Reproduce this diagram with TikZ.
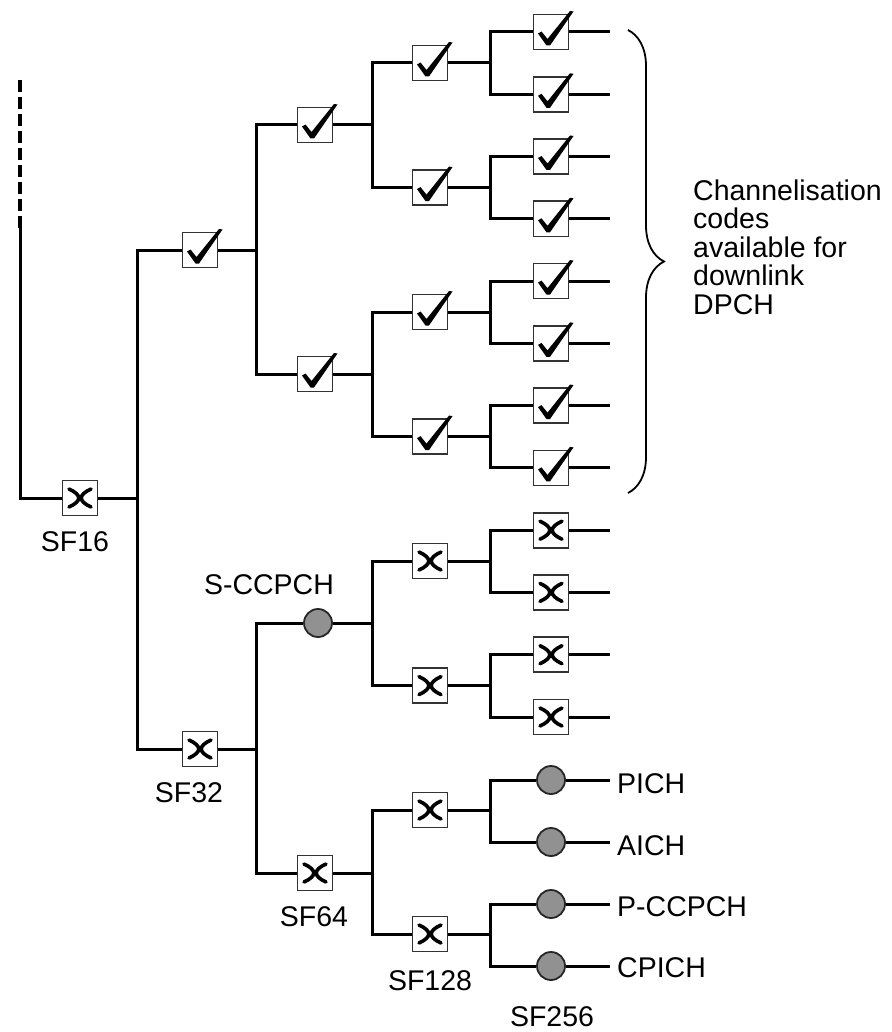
\documentclass[tikz,border=0pt]{standalone}
\usepackage{fontspec}
\setmainfont{Liberation Sans}
\usetikzlibrary{decorations.pathreplacing,calc}
\begin{document}
\begin{tikzpicture}[x=1pt,y=-1pt,
  lnk/.style={line width=3pt},
  boxnode/.style={rectangle, draw=black!80, line width=1.6pt, fill=white, minimum size=35pt, inner sep=0pt},
  dotnode/.style={circle, draw=black!85, line width=1.8pt, fill=black!43, minimum size=28pt, inner sep=0pt},
  lab/.style={font=\fontsize{28.5}{28.5}\selectfont, inner sep=0pt},
  chk/.style={fill=black},
  crs/.style={line width=3.6pt, line cap=round},
]
\useasboundingbox (0,0) rectangle (891,1032);
% root
\coordinate (rtop) at (20,80);
\coordinate (rmid) at (20,228);
\coordinate (rbot) at (20,498);
\node[boxnode] (r16) at (80,498) {};
% SF32
\node[boxnode] (a1) at (200,250) {};
\node[boxnode] (a2) at (200,749) {};
% SF64
\node[boxnode] (b1) at (315,125) {};
\node[boxnode] (b2) at (315,374) {};
\node[dotnode] (b3) at (318,623) {};
\node[boxnode] (b4) at (315,873) {};
% SF128
\node[boxnode] (c1) at (430,63) {};
\node[boxnode] (c2) at (430,187.6) {};
\node[boxnode] (c3) at (430,312) {};
\node[boxnode] (c4) at (430,436.6) {};
\node[boxnode] (c5) at (430,561) {};
\node[boxnode] (c6) at (430,685.6) {};
\node[boxnode] (c7) at (430,810) {};
\node[boxnode] (c8) at (430,934) {};
% SF256
\node[boxnode] (d1) at (551,32) {};
\node[boxnode] (d2) at (551,94.3) {};
\node[boxnode] (d3) at (551,156.5) {};
\node[boxnode] (d4) at (551,218.8) {};
\node[boxnode] (d5) at (551,281.1) {};
\node[boxnode] (d6) at (551,343.4) {};
\node[boxnode] (d7) at (551,405.6) {};
\node[boxnode] (d8) at (551,467.9) {};
\node[boxnode] (d9) at (551,530.2) {};
\node[boxnode] (d10) at (551,592.4) {};
\node[boxnode] (d11) at (551,654.7) {};
\node[boxnode] (d12) at (551,717) {};
\node[dotnode] (d13) at (551,780) {};
\node[dotnode] (d14) at (551,842) {};
\node[dotnode] (d15) at (551,904) {};
\node[dotnode] (d16) at (551,966) {};
% leaf ends
\foreach \i in {1,...,16} { \coordinate (e\i) at ($(d\i.center)+(59,0)$); }
% junctions
\coordinate (j16) at (137,498);
\coordinate (ja1) at (256,250);
\coordinate (ja2) at (256,749);
\coordinate (jb1) at (372,125);
\coordinate (jb2) at (372,374);
\coordinate (jb3) at (372,623);
\coordinate (jb4) at (372,873);
\foreach \k/\yy in {1/63,2/187.6,3/312,4/436.6,5/561,6/685.6,7/810,8/934} { \coordinate (jc\k) at (490,\yy); }
% connectors
\draw[lnk, dash pattern=on 12pt off 5pt, line width=3.6pt] (rtop) -- (rmid);
\draw[lnk] (rmid) -- (rbot) -- (r16.west);
\draw[lnk] (r16.east) -- (j16);
\draw[lnk] (a1.west) -- (a1.west -| j16) |- (a2.west);
\draw[lnk] (a1.east) -- (ja1);
\draw[lnk] (b1.west) -- (b1.west -| ja1) |- (b2.west);
\draw[lnk] (a2.east) -- (ja2);
\draw[lnk] (b3.west) -- (b3.west -| ja2) |- (b4.west);
\draw[lnk] (b1.east) -- (jb1);
\draw[lnk] (c1.west) -- (c1.west -| jb1) |- (c2.west);
\draw[lnk] (b2.east) -- (jb2);
\draw[lnk] (c3.west) -- (c3.west -| jb2) |- (c4.west);
\draw[lnk] (b3.east) -- (jb3);
\draw[lnk] (c5.west) -- (c5.west -| jb3) |- (c6.west);
\draw[lnk] (b4.east) -- (jb4);
\draw[lnk] (c7.west) -- (c7.west -| jb4) |- (c8.west);
\foreach \k [evaluate=\k as \u using int(2*\k-1), evaluate=\k as \v using int(2*\k)] in {1,...,8} {
  \draw[lnk] (c\k.east) -- (jc\k);
  \draw[lnk] (d\u.west) -- (d\u.west -| jc\k) |- (d\v.west);
}
\foreach \i in {1,...,16} { \draw[lnk] (d\i.east) -- (e\i); }
% check marks
\foreach \n in {a1,b1,b2,c1,c2,c3,c4,d1,d2,d3,d4,d5,d6,d7,d8} {
  \fill[chk, shift={(\n.center)}] (-13,1.5) -- (-9.5,-0.5) -- (-3.5,7) -- (19,-21) -- (22.5,-20.5) -- (-1,13.5) -- (-4.5,13.5) -- cycle;
}
% cross marks
\foreach \n in {r16,a2,b4,c5,c6,c7,c8,d9,d10,d11,d12} {
  \draw[crs, shift={(\n.center)}] (-11,-9) .. controls (2,-3) and (2,3) .. (-11,9);
  \draw[crs, shift={(\n.center)}] (11,-9) .. controls (-2,-3) and (-2,3) .. (11,9);
}
% brace
\coordinate (bt) at (628,30);
\coordinate (bb) at (628,493);
\draw[line width=1.8pt, decorate, decoration={brace, amplitude=36pt, aspect=0.5}] (bt) -- (bb);
% labels
\node[lab] (lsf16) at (75,542) {SF16};
\node[lab] (lsf32) at (189,793) {SF32};
\node[lab] (lsf64) at (314,917) {SF64};
\node[lab] (lsf128) at (430,981) {SF128};
\node[lab] (lsf256) at (552,1017) {SF256};
\node[lab] (lscc) at (269,585) {S-CCPCH};
\node[lab, anchor=west] (lpich) at (617,784) {PICH};
\node[lab, anchor=west] (laich) at (617,846) {AICH};
\node[lab, anchor=west] (lpcc) at (617,907) {P-CCPCH};
\node[lab, anchor=west] (lcpich) at (617,968) {CPICH};
\node[lab, anchor=west, align=left] (ltxt) at (693,247) {Channelisation\\codes\\available for\\downlink\\DPCH};
\end{tikzpicture}
\end{document}
